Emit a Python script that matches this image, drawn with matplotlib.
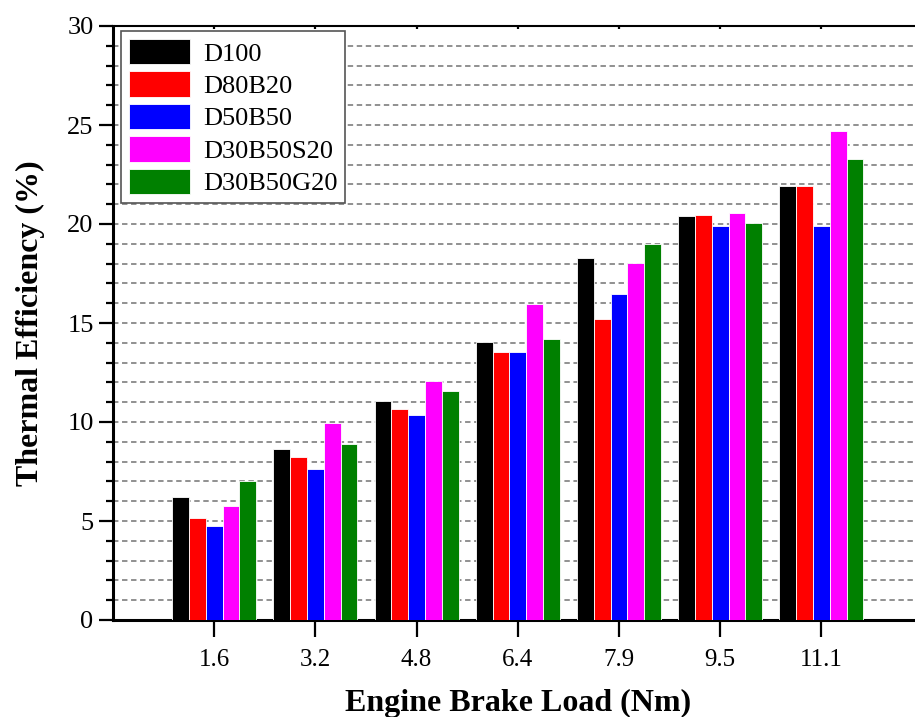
import numpy as np
import matplotlib
matplotlib.use('Agg')
import matplotlib.pyplot as plt
from matplotlib.ticker import MultipleLocator

plt.rcParams['font.family'] = ['Liberation Serif', 'DejaVu Serif']

# data
loads = ['1.6', '3.2', '4.8', '6.4', '7.9', '9.5', '11.1']
fuels = ['D100', 'D80B20', 'D50B50', 'D30B50S20', 'D30B50G20']
colors = ['black', 'red', 'blue', 'magenta', 'green']

d100 = [6.23, 8.64, 11.06, 14.04, 18.27, 20.40, 21.92]
d80b20 = [5.14, 8.22, 10.66, 13.54, 15.20, 20.45, 21.92]
d50b50 = [4.73, 7.61, 10.37, 13.54, 16.48, 19.88, 19.90]
d30b50s20 = [5.76, 9.96, 12.09, 15.97, 18.03, 20.57, 24.70]
d30b50g20 = [7.04, 8.89, 11.58, 14.18, 18.97, 20.05, 23.27]
series = [d100, d80b20, d50b50, d30b50s20, d30b50g20]

fig = plt.figure(figsize=(9.15, 7.17), dpi=100)
ax = fig.add_axes([113/915, 1 - 620/717, 809.6/915, 594/717])

x = np.arange(1, len(loads) + 1)
w = 0.166
for k, (vals, name, c) in enumerate(zip(series, fuels, colors)):
    ax.bar(x + (k - 2) * w, vals, width=w, color=c, label=name,
           edgecolor='white', linewidth=0.6, zorder=3)

ax.set_xlim(0, 8)
ax.set_ylim(0, 30)
ax.set_xticks(x)
ax.set_xticklabels(loads)
ax.yaxis.set_major_locator(MultipleLocator(5))
ax.yaxis.set_minor_locator(MultipleLocator(1))

ax.set_axisbelow(True)
ax.yaxis.grid(True, which='both', color='#888888', linestyle=(0, (3, 2)), linewidth=1.3)

for s in ['left', 'bottom']:
    ax.spines[s].set_linewidth(2.2)
ax.spines['top'].set_linewidth(1.5)
ax.spines['right'].set_visible(False)

ax.tick_params(axis='y', which='major', direction='out', length=10, width=1.6, labelsize=19, pad=4)
ax.tick_params(axis='y', which='minor', direction='out', length=5, width=1.6)
ax.tick_params(axis='x', which='major', direction='out', length=12, width=1.6, labelsize=18, pad=9)
ax.tick_params(axis='x', which='major', top=True, labeltop=False)
ax.xaxis.set_tick_params(which='major', top=True)
for t in ax.xaxis.get_major_ticks():
    t.tick2line.set_markersize(2)
    t.tick2line.set_marker(3)

ax.set_xlabel('Engine Brake Load (Nm)', fontsize=23, fontweight='bold', labelpad=13)
ax.set_ylabel('Thermal Efficiency (%)', fontsize=23, fontweight='bold', labelpad=16)

leg = ax.legend(loc='upper left', bbox_to_anchor=(121/915, 1 - 31/717),
                bbox_transform=fig.transFigure, borderaxespad=0,
                fontsize=19, handlelength=2.3, handleheight=1.1,
                handletextpad=0.5, labelspacing=0.22, borderpad=0.3,
                fancybox=False, framealpha=1, edgecolor='#555555')
leg.get_frame().set_linewidth(1.2)

fig.savefig('out.png', dpi=100)
